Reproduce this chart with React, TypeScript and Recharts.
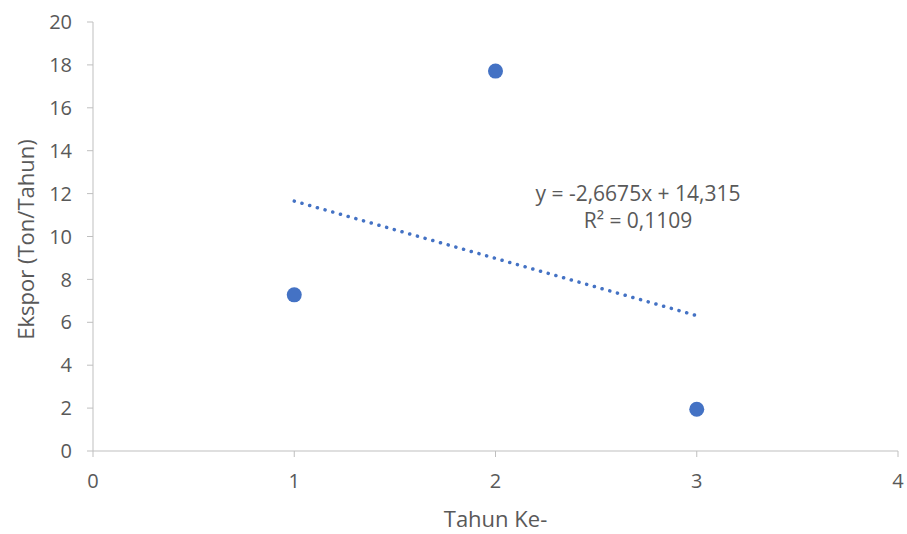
import { ScatterChart, Scatter, XAxis, YAxis, Label } from "recharts";

// tahun ke- vs ekspor (ton/tahun)
const years = [1, 2, 3];
const exports = [7.28, 17.71, 1.945];

// linear trendline endpoints + its label
const trendX = [1, 3];
const trendY = [11.65, 6.31];
const trendText = ["y = -2,6675x + 14,315", "R² = 0,1109"];

const xTicks = [0, 1, 2, 3, 4];
const yTicks = [0, 2, 4, 6, 8, 10, 12, 14, 16, 18, 20];

const points = years.map((x, i) => ({ x, y: exports[i] }));
const trend = trendX.map((x, i) => ({ x, y: trendY[i] }));

const BLUE = "#4472C4";
const AXIS = "#BFBFBF";
const TEXT = "#595959";
const FONT = "'Open Sans', sans-serif";

export default function App() {
  return (
    <div style={{ position: "absolute", left: 0, top: 0, background: "#fff", fontFamily: FONT }}>
      <ScatterChart width={907} height={534} margin={{ top: 22, right: 9, bottom: 0, left: 0 }}>
        <XAxis
          type="number"
          dataKey="x"
          domain={[0, 4]}
          ticks={xTicks}
          height={83}
          stroke={AXIS}
          tickSize={6}
          tick={{ fill: TEXT, fontSize: 20, fontFamily: FONT }}
          tickMargin={17}
        >
          <Label
            content={({ viewBox }: any) => (
              <text
                x={viewBox.x + viewBox.width / 2}
                y={viewBox.y + 67}
                textAnchor="middle"
                dominantBaseline="central"
                fill={TEXT}
                fontSize={22}
                fontFamily={FONT}
              >
                Tahun Ke-
              </text>
            )}
          />
        </XAxis>
        <YAxis
          type="number"
          dataKey="y"
          domain={[0, 20]}
          ticks={yTicks}
          width={93}
          stroke={AXIS}
          tickSize={6}
          tick={{ fill: TEXT, fontSize: 20, fontFamily: FONT }}
          tickMargin={15}
        >
          <Label
            content={({ viewBox }: any) => {
              const cx = 25;
              const cy = viewBox.y + viewBox.height / 2 + 3;
              return (
                <text
                  x={cx}
                  y={cy}
                  transform={`rotate(-90, ${cx}, ${cy})`}
                  textAnchor="middle"
                  dominantBaseline="central"
                  fill={TEXT}
                  fontSize={22}
                  fontFamily={FONT}
                >
                  Ekspor (Ton/Tahun)
                </text>
              );
            }}
          />
        </YAxis>
        <Scatter
          data={trend}
          line={{ stroke: BLUE, strokeWidth: 3.5, strokeDasharray: "0.1 7.9", strokeLinecap: "round" }}
          shape={() => null}
          isAnimationActive={false}
        />
        <Scatter
          data={points}
          fill={BLUE}
          shape={(p: any) => <circle cx={p.cx} cy={p.cy} r={7.5} fill={BLUE} />}
          isAnimationActive={false}
        />
        <text x={638} y={193} textAnchor="middle" dominantBaseline="central" fill={TEXT} fontSize={21} fontFamily={FONT}>
          {trendText[0]}
        </text>
        <text x={638} y={220} textAnchor="middle" dominantBaseline="central" fill={TEXT} fontSize={21} fontFamily={FONT}>
          {trendText[1]}
        </text>
      </ScatterChart>
    </div>
  );
}
